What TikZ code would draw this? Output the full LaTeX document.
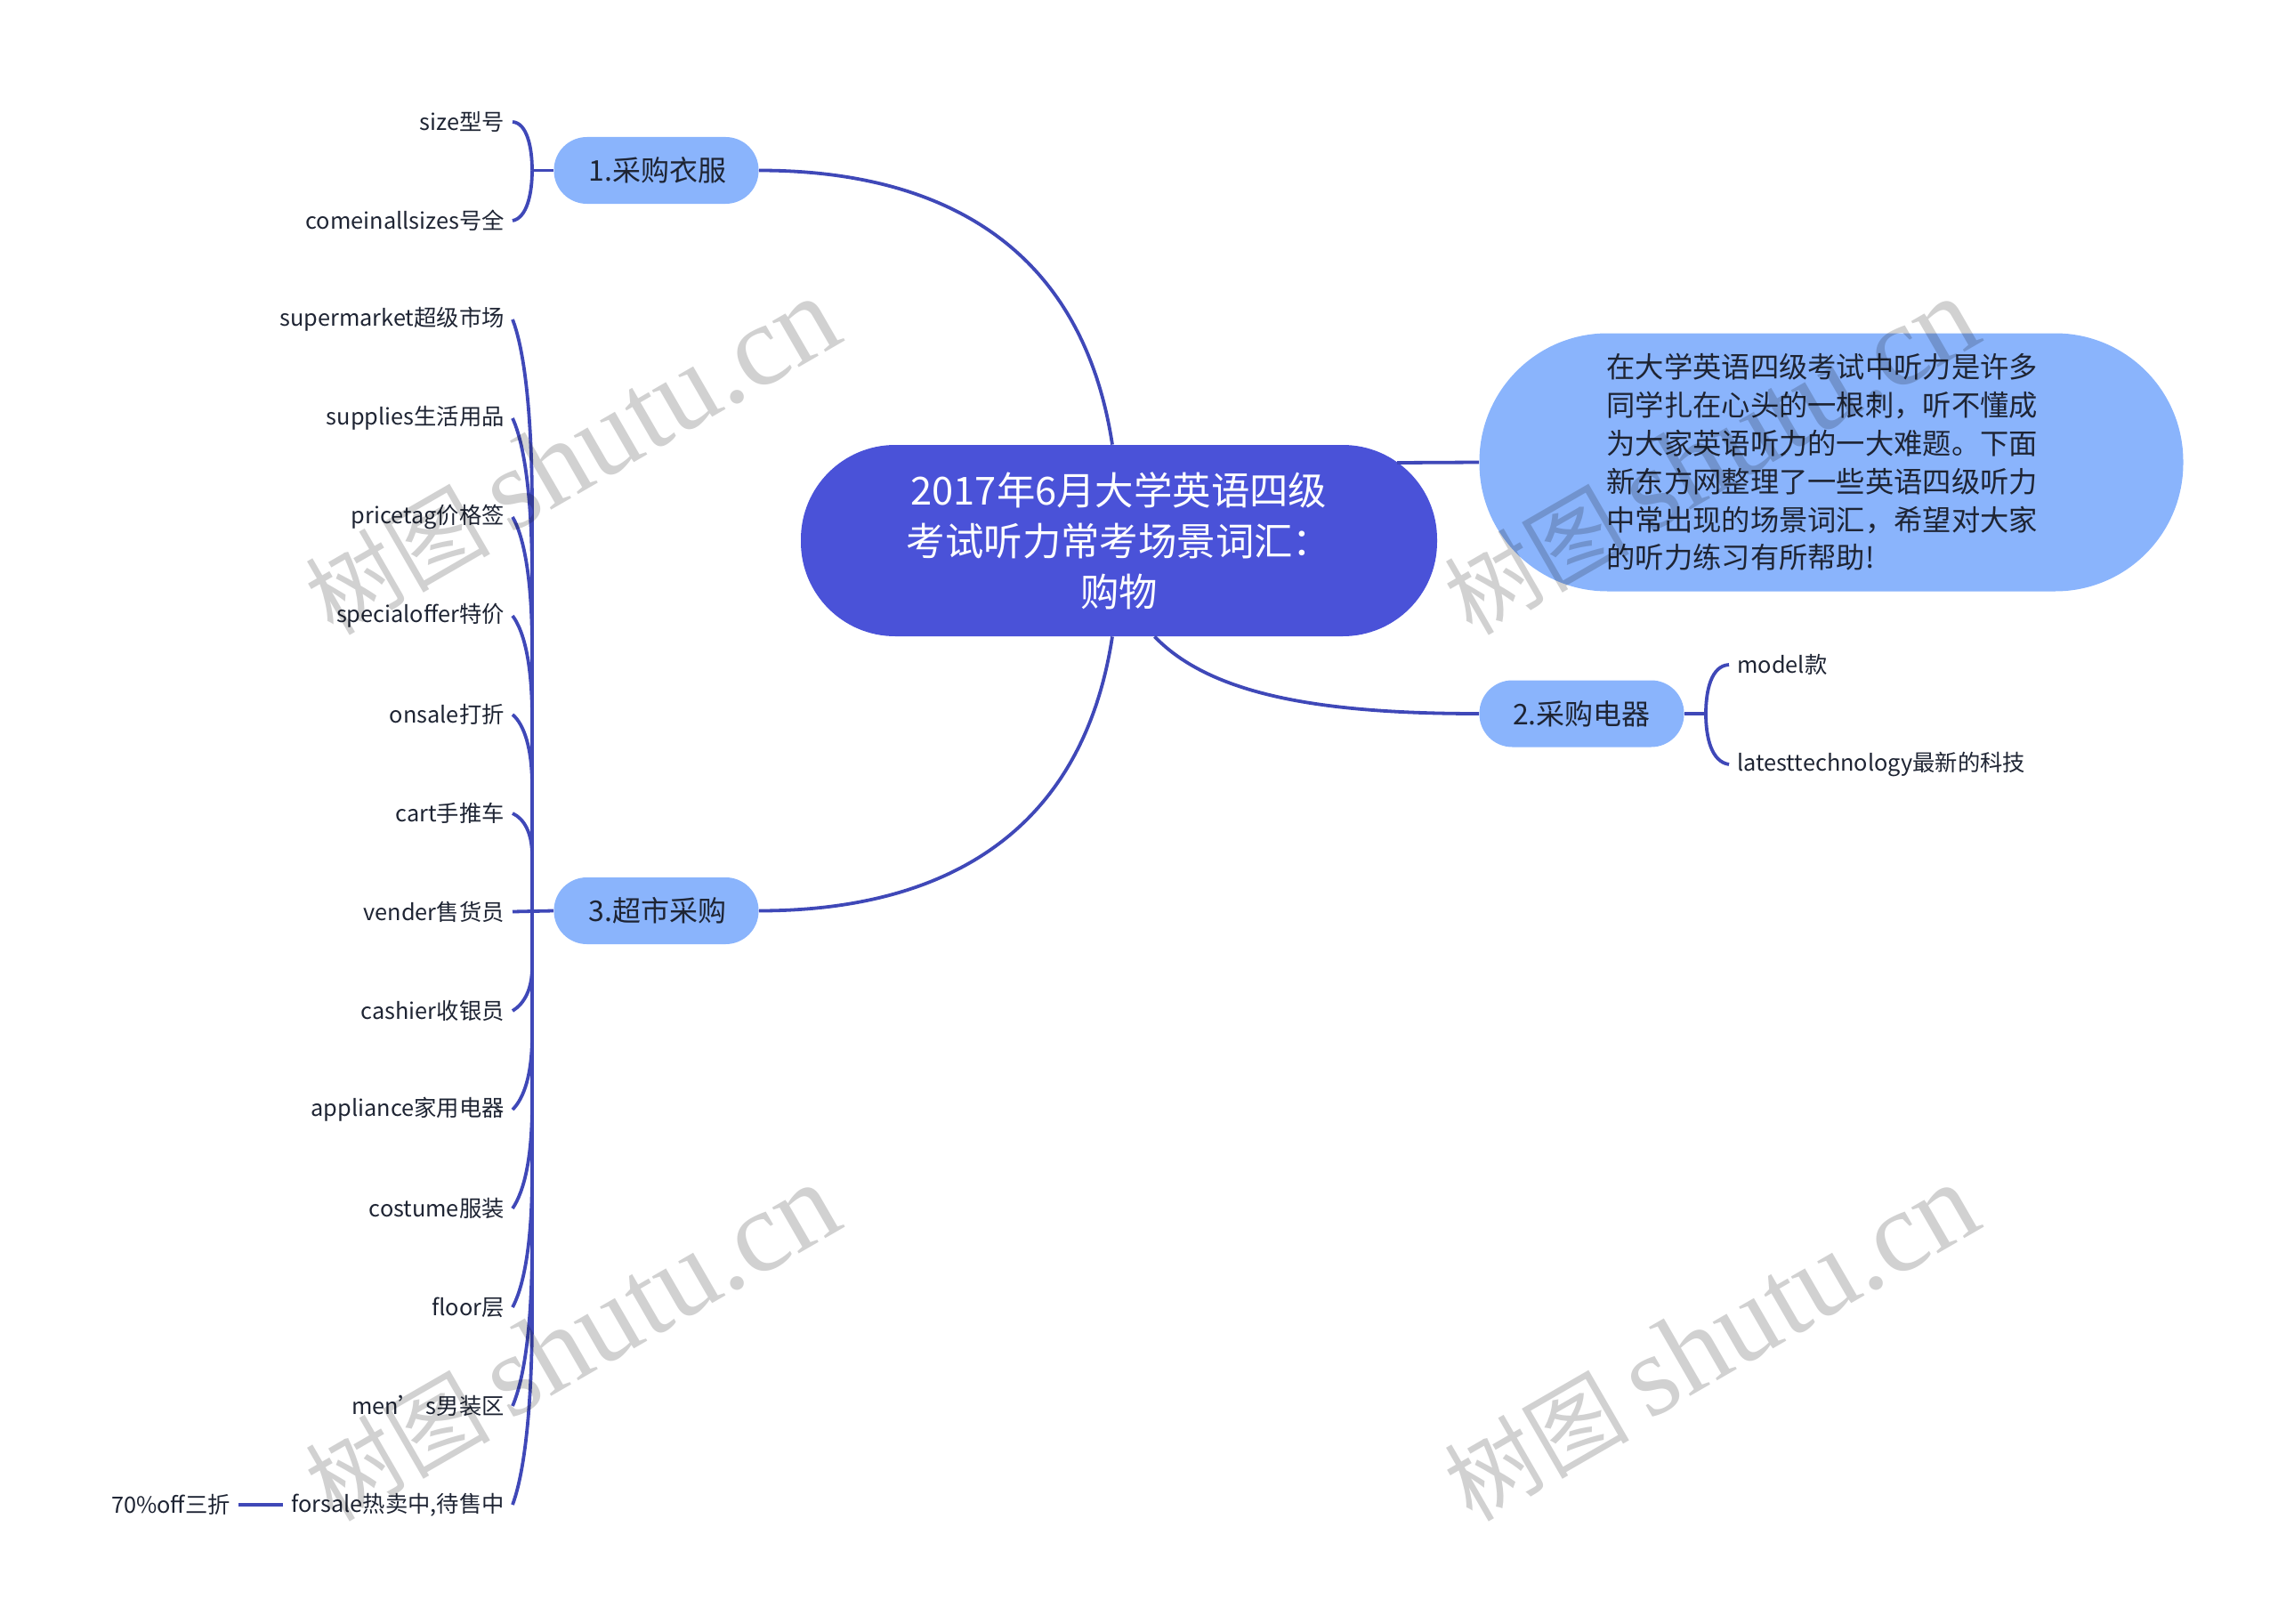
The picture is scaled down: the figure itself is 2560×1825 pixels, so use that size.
\documentclass[tikz,border=0pt]{standalone}
\usepackage{fontspec}
\usepackage{xcolor}
\setmainfont{Noto Sans CJK SC}
\newfontfamily\latinmark{Liberation Serif}
\definecolor{rootblue}{HTML}{4A52D8}
\definecolor{branchblue}{HTML}{8AB4FC}
\definecolor{linkblue}{HTML}{3F48B8}
\definecolor{inkdark}{HTML}{1E2433}
\tikzset{
    root-box/.style = {fill=rootblue, text=white, rectangle, rounded corners=53pt, inner sep=0pt, minimum width=357.5pt, minimum height=107.5pt, align=center, font=\fontsize{21.7}{28.5}\selectfont},
    note-box/.style = {fill=branchblue, text=inkdark, rectangle, rounded corners=72pt, inner sep=0pt, minimum width=395.5pt, minimum height=145pt, text width=252.5pt, align=left, font=\fontsize{16.15}{21.4}\selectfont},
    branch-box/.style = {fill=branchblue, text=inkdark, rectangle, rounded corners=18.5pt, inner sep=0pt, minimum width=115pt, minimum height=37.5pt, font=\fontsize{16}{20}\selectfont},
    leaf-text/.style = {text=inkdark, inner xsep=4.5pt, inner ysep=2pt, yshift=-.5pt, font=\fontsize{12.65}{15}\selectfont},
    link-line/.style = {draw=linkblue, line width=1.9pt},
    water-text/.style = {text=black, text opacity=.18, rotate=30, inner sep=0pt, font=\fontsize{65}{65}\selectfont},
}
\newcommand{\watertext}{{\fontsize{52}{52}\selectfont 树图}\,{\latinmark shutu.cn}}
\begin{document}
\begin{tikzpicture}[x=.5pt, y=-.5pt]
\useasboundingbox (0,0) rectangle (2560,1825);

\node [root-box] (root) at (1257.5,607.5) {2017年6月大学英语四级\\考试听力常考场景词汇：\\购物};
\node [note-box] (note) at (2058,519.5) {在大学英语四级考试中听力是许多\\同学扎在心头的一根刺，听不懂成\\为大家英语听力的一大难题。下面\\新东方网整理了一些英语四级听力\\中常出现的场景词汇，希望对大家\\的听力练习有所帮助!};
\node [branch-box] (clothes) at (737.5,191.5) {\hspace{1.5pt}1.采购衣服};
\node [branch-box] (market) at (737.5,1023.5) {\hspace{1.5pt}3.超市采购};
\node [branch-box] (appliances) at (1777.5,802) {2.采购电器};

\node [leaf-text, anchor=east] (size) at (576,136) {size型号};
\node [leaf-text, anchor=east] (allsizes) at (576,247) {comeinallsizes号全};

\node [leaf-text, anchor=east] (supermarket) at (576,358) {supermarket超级市场};
\node [leaf-text, anchor=east] (supplies) at (576,469) {supplies生活用品};
\node [leaf-text, anchor=east] (pricetag) at (576,580) {pricetag价格签};
\node [leaf-text, anchor=east] (specialoffer) at (576,691) {specialoffer特价};
\node [leaf-text, anchor=east] (onsale) at (576,802) {onsale打折};
\node [leaf-text, anchor=east] (cart) at (576,913) {cart手推车};
\node [leaf-text, anchor=east] (vender) at (576,1023.5) {vender售货员};
\node [leaf-text, anchor=east] (cashier) at (576,1135) {cashier收银员};
\node [leaf-text, anchor=east] (appliance) at (576,1246) {appliance家用电器};
\node [leaf-text, anchor=east] (costume) at (576,1357) {costume服装};
\node [leaf-text, anchor=east] (floor) at (576,1468) {floor层};
\node [leaf-text, anchor=east] (mens) at (576,1579) {men’ s男装区};
\node [leaf-text, anchor=east] (forsale) at (576,1690) {forsale热卖中,待售中};
\node [leaf-text, anchor=east] (off) at (268,1690) {70\%off三折};

\node [leaf-text, anchor=west] (model) at (1943,746) {model款};
\node [leaf-text, anchor=west] (latest) at (1943,858) {latesttechnology最新的科技};

\coordinate (spine-clothes) at (598,191.5);
\coordinate (spine-market) at (598,1023.5);
\coordinate (spine-appliances) at (1917,802);
\coordinate (root-right) at (1570,520);

\draw [link-line] (clothes.east) .. controls (1050,191.5) and (1215,270) .. ([xshift=-3.75pt]root.north);
\draw [link-line] (market.east) .. controls (1050,1023.5) and (1215,945) .. ([xshift=-3.75pt]root.south);
\draw [link-line] ([xshift=20pt]root.south) .. controls (1360,780) and (1480,802) .. (appliances.west);
\draw [link-line] (root-right) -- (note.west);

\draw [link-line] (clothes.west) -- (spine-clothes);
\draw [link-line] (spine-clothes) .. controls (598,165) and (592,138) .. (size.east);
\draw [link-line] (spine-clothes) .. controls (598,218) and (592,245) .. (allsizes.east);

\draw [link-line] (market.west) -- (vender.east);
\draw [link-line] (spine-market) -- (598,573) .. controls (598,464) and (589,392) .. (supermarket.east);
\draw [link-line] (spine-market) -- (598,650) .. controls (598,558) and (589,498) .. (supplies.east);
\draw [link-line] (spine-market) -- (598,728) .. controls (598,652) and (589,603) .. (pricetag.east);
\draw [link-line] (spine-market) -- (598,806) .. controls (598,747) and (589,709) .. (specialoffer.east);
\draw [link-line] (spine-market) -- (598,883) .. controls (598,841) and (589,814) .. (onsale.east);
\draw [link-line] (spine-market) -- (598,961) .. controls (598,936) and (589,920) .. (cart.east);
\draw [link-line] (spine-market) -- (598,1087) .. controls (598,1112) and (589,1128) .. (cashier.east);
\draw [link-line] (spine-market) -- (598,1164) .. controls (598,1207) and (589,1234) .. (appliance.east);
\draw [link-line] (spine-market) -- (598,1242) .. controls (598,1301) and (589,1339) .. (costume.east);
\draw [link-line] (spine-market) -- (598,1320) .. controls (598,1395) and (589,1445) .. (floor.east);
\draw [link-line] (spine-market) -- (598,1398) .. controls (598,1490) and (589,1550) .. (mens.east);
\draw [link-line] (spine-market) -- (598,1475) .. controls (598,1584) and (589,1656) .. (forsale.east);
\draw [link-line] (forsale.west) -- (off.east);

\draw [link-line] (appliances.east) -- (spine-appliances);
\draw [link-line] (spine-appliances) .. controls (1917,776) and (1923,748) .. (model.west);
\draw [link-line] (spine-appliances) .. controls (1917,828) and (1923,856) .. (latest.west);

\node [water-text] (water-a) at (643,513) {\watertext};
\node [water-text] (water-b) at (1923,513) {\watertext};
\node [water-text] (water-c) at (643,1509) {\watertext};
\node [water-text] (water-d) at (1923,1509) {\watertext};
\end{tikzpicture}
\end{document}
